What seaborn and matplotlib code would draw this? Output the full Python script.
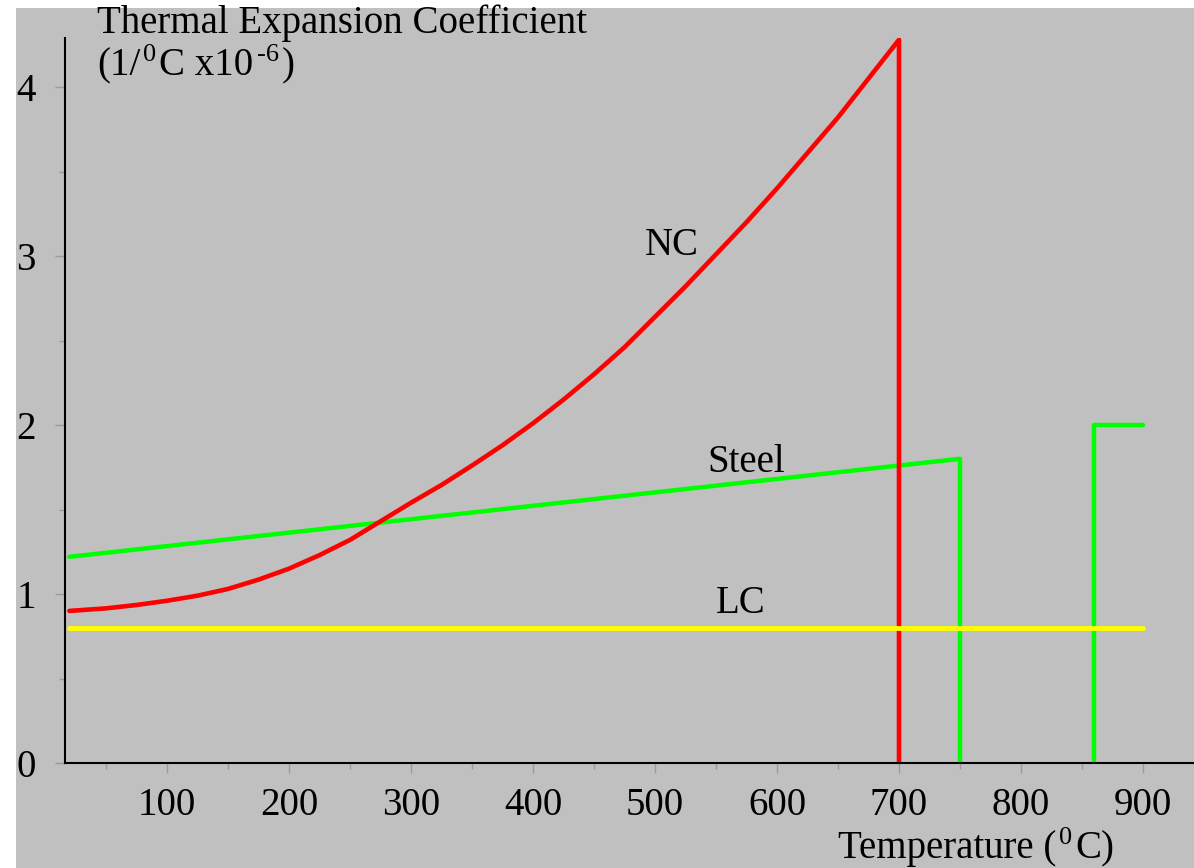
import numpy as np
import pandas as pd
import matplotlib
matplotlib.use("Agg")
import matplotlib.pyplot as plt
from matplotlib.patches import Rectangle
from matplotlib.ticker import MultipleLocator
import seaborn as sns

# ---- data -------------------------------------------------------------
# NC (normal concrete) thermal expansion coefficient vs temperature
nc_temp = [20, 50, 75, 100, 125, 150, 175, 200, 225, 250, 275, 300, 325, 350,
           375, 400, 425, 450, 475, 500, 525, 550, 575, 600, 625, 650, 675, 700, 700]
nc_coef = [0.90, 0.915, 0.935, 0.96, 0.99, 1.03, 1.085, 1.15, 1.23, 1.32, 1.43,
           1.54, 1.645, 1.76, 1.88, 2.01, 2.15, 2.30, 2.46, 2.64, 2.82, 3.01,
           3.20, 3.40, 3.61, 3.82, 4.05, 4.28, 0.0]

# Steel: linear rise, drop at 750 C, recovery at 860 C
steel_temp_a = [20, 750, 750]
steel_coef_a = [1.22, 1.80, 0.0]
steel_temp_b = [860, 860, 900]
steel_coef_b = [0.0, 2.0, 2.0]

# LC (lightweight concrete): constant
lc_temp = [20, 900]
lc_coef = [0.8, 0.8]

x_ticks = [100, 200, 300, 400, 500, 600, 700, 800, 900]
y_ticks = [0, 1, 2, 3, 4]

# ---- style ------------------------------------------------------------
sns.set_style("ticks")
plt.rcParams["font.family"] = ["Liberation Serif", "DejaVu Serif"]
plt.rcParams["text.color"] = "black"
plt.rcParams["axes.labelcolor"] = "black"
plt.rcParams["xtick.color"] = "black"
plt.rcParams["ytick.color"] = "black"

BG = "#c0c0c0"
FS = 28
FS_SUP = 19

fig = plt.figure(figsize=(11.94, 8.68), dpi=100, facecolor="white")
fig.patches.append(Rectangle((16 / 1194, 0), 1 - 16 / 1194, 860 / 868,
                             transform=fig.transFigure, facecolor=BG,
                             edgecolor="none", zorder=-10))
ax = fig.add_axes([65 / 1194, 105 / 868, 1 - 65 / 1194, 725 / 868])
ax.set_zorder(1)
ax.set_facecolor(BG)

steel_a = pd.DataFrame({"T": steel_temp_a, "v": steel_coef_a})
steel_b = pd.DataFrame({"T": steel_temp_b, "v": steel_coef_b})
nc = pd.DataFrame({"T": nc_temp, "v": nc_coef})
lc = pd.DataFrame({"T": lc_temp, "v": lc_coef})

line_kw = dict(sort=False, estimator=None, ax=ax, solid_joinstyle="round")
sns.lineplot(data=steel_a, x="T", y="v", color="#00ff00", lw=3.2, **line_kw)
sns.lineplot(data=steel_b, x="T", y="v", color="#00ff00", lw=3.2, **line_kw)
sns.lineplot(data=nc, x="T", y="v", color="#ff0000", lw=3.3, **line_kw)
sns.lineplot(data=lc, x="T", y="v", color="#ffff00", lw=3.5, **line_kw)

ax.set_xlim(16.4, 941.8)
ax.set_ylim(0, 4.29)
ax.set_xticks(x_ticks)
ax.set_yticks(y_ticks)
ax.xaxis.set_minor_locator(MultipleLocator(50))
ax.yaxis.set_minor_locator(MultipleLocator(0.5))
ax.set_xlabel("")
ax.set_ylabel("")

for side in ("top", "right"):
    ax.spines[side].set_visible(False)
for side in ("left", "bottom"):
    ax.spines[side].set_color("black")
    ax.spines[side].set_linewidth(1.5)

ax.tick_params(axis="both", which="major", direction="out", length=7,
               width=1, color="#9a9a9a", labelsize=FS, labelcolor="black")
ax.tick_params(axis="both", which="minor", direction="out", length=4.5,
               width=1, color="#9a9a9a")
ax.tick_params(axis="y", which="major", pad=14)
ax.tick_params(axis="x", which="major", pad=10)

# curve labels
ax.text(514, 3.006, "NC", fontsize=FS, ha="center", va="baseline")
ax.text(575, 1.72, "Steel", fontsize=FS, ha="center", va="baseline")
ax.text(570, 0.888, "LC", fontsize=FS, ha="center", va="baseline")


def run_text(x_px, base_px, pieces):
    """Draw a sequence of (text, is_superscript) pieces left to right."""
    renderer = fig.canvas.get_renderer()
    x = x_px
    for txt, sup in pieces:
        size = FS_SUP if sup else FS
        dy = 14 if sup else 0
        if sup:
            x += 3
        t = fig.text(x / 1194, 1 - (base_px - dy) / 868, txt, fontsize=size,
                     ha="left", va="baseline")
        bb = t.get_window_extent(renderer=renderer)
        x += bb.width + (3 if sup else 0)
    return x


# axis titles
fig.text(97 / 1194, 1 - 33 / 868, "Thermal Expansion Coefficient",
         fontsize=FS, ha="left", va="baseline")
run_text(97, 75, [("(1/", False), ("0", True), ("C x10", False),
                  ("-6", True), (")", False)])
run_text(838, 858, [("Temperature (", False), ("0", True), ("C)", False)])

fig.savefig("out.png", dpi=100, facecolor="white")
